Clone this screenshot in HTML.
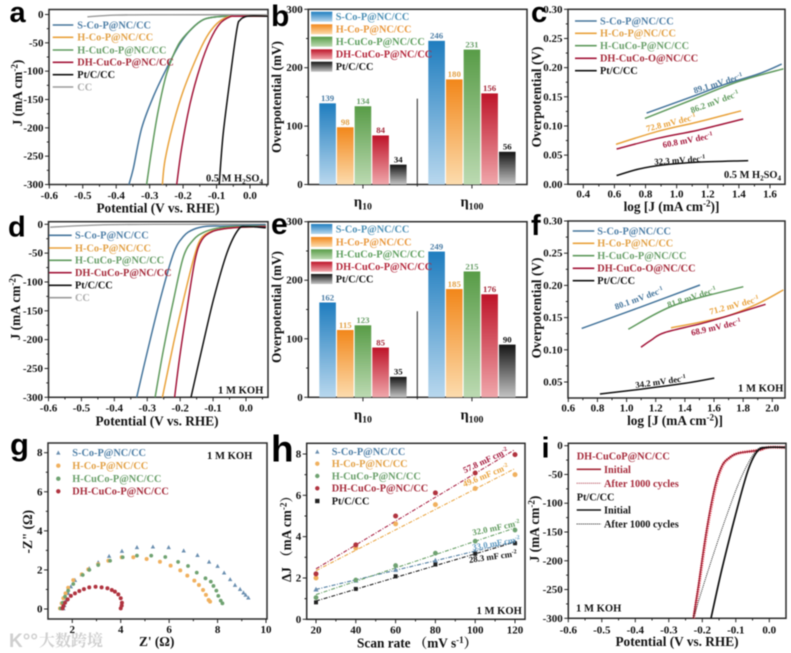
<!DOCTYPE html>
<html lang="en">
<head>
<meta charset="utf-8">
<title>Electrocatalyst performance panels</title>
<style>
html,body{margin:0;padding:0;background:#fff;width:791px;height:653px;overflow:hidden}
svg{display:block;filter:blur(0.5px)}
text{font-family:"Liberation Serif","Noto Serif CJK SC",serif;font-weight:bold}
.letter{font-family:"Liberation Sans",sans-serif;font-weight:bold}
</style>
</head>
<body>
<svg id="figure" xmlns="http://www.w3.org/2000/svg" width="791" height="653" viewBox="0 0 791 653">
<defs>
<linearGradient id="g0" x1="0" y1="0" x2="0" y2="1"><stop offset="0" stop-color="#1f7dbf"/><stop offset="1" stop-color="#b9d8ee"/></linearGradient>
<linearGradient id="g1" x1="0" y1="0" x2="0" y2="1"><stop offset="0" stop-color="#f2871a"/><stop offset="1" stop-color="#fcdcae"/></linearGradient>
<linearGradient id="g2" x1="0" y1="0" x2="0" y2="1"><stop offset="0" stop-color="#589c47"/><stop offset="1" stop-color="#bcdab2"/></linearGradient>
<linearGradient id="g3" x1="0" y1="0" x2="0" y2="1"><stop offset="0" stop-color="#be1429"/><stop offset="1" stop-color="#f0a7ab"/></linearGradient>
<linearGradient id="g4" x1="0" y1="0" x2="0" y2="1"><stop offset="0" stop-color="#141414"/><stop offset="1" stop-color="#c4c4c4"/></linearGradient>
</defs>
</svg>
<script>
// ---------- panel a data ----------
const aSPot=[-.362,-.349,-.324,-.289,-.249,-.209,-.174,-.139,-.099,-.05,.053];
const aSJ=[-300,-272,-201,-145,-95,-51,-25,-9,-4,-3,-3];
const aHCoPot=[-.262,-.254,-.229,-.199,-.159,-.129,-.099,-.07,-.04,.053];
const aHCoJ=[-300,-257,-192,-134,-75,-39,-16,-5,-3,-3];
const aHCuPot=[-.309,-.294,-.274,-.249,-.214,-.174,-.139,-.099,-.05,.053];
const aHCuJ=[-300,-239,-169,-104,-53,-25,-9,-4,-3,-3];
const aDHPot=[-.219,-.204,-.179,-.149,-.119,-.09,-.06,-.04,.053];
const aDHJ=[-300,-234,-157,-92,-45,-16,-4,-3,-3];
const aPtPot=[-.092,-.08,-.055,-.038,-.03,-.015,.01,.053];
const aPtJ=[-300,-210,-92,-22,-10,-4,-2.5,-3];
const aCCPot=[-.486,-.399,-.25,.053];
const aCCJ=[-4,-1,-.5,-.5];
// ---------- panel d data ----------
const dSPot=[-.332,-.301,-.261,-.22,-.19,-.16,-.119,-.058,.06];
const dSJ=[-300,-224,-131,-50,-21,-9,-3.5,-3,-1];
const dHCoPot=[-.254,-.22,-.19,-.16,-.139,-.109,-.069,-.018,.06];
const dHCoJ=[-300,-206,-131,-62,-27,-13,-8,-5,-4];
const dHCuPot=[-.276,-.251,-.22,-.19,-.16,-.129,-.089,-.038,.06];
const dHCuJ=[-300,-218,-131,-56,-27,-14,-7,-4,-3];
const dDHPot=[-.217,-.2,-.18,-.155,-.134,-.104,-.069,-.018,.06];
const dDHJ=[-300,-224,-149,-62,-27,-13,-8,-5,-4];
const dPtPot=[-.167,-.139,-.099,-.058,-.023,.002,.06];
const dPtJ=[-300,-229,-131,-50,-9,-4,-6];
const dCCPot=[-.595,-.443,-.25,.06];
const dCCJ=[-5,-1,0,0];
// ---------- panel i data ----------
const iDHPot=[-.227,-.212,-.187,-.162,-.142,-.122,-.093,-.033,-.003,.047];
const iDHJ=[-300,-245,-146,-71,-36,-22,-13,-8,-3,-3];
const iDHAfterPot=[-.226,-.211,-.186,-.161,-.141,-.121,-.092,-.033,-.003,.047];
const iDHAfterJ=[-300,-245,-146,-71,-36,-22,-13,-8,-3,-3];
const iPtPot=[-.174,-.142,-.102,-.063,-.033,-.003,.047];
const iPtJ=[-300,-216,-123,-42,-8,-3,-3];
const iPtAfterPot=[-.227,-.182,-.132,-.083,-.038,-.003,.047];
const iPtAfterJ=[-300,-216,-129,-54,-8,-3,-3];
// ---------- overpotential bars ----------
const barGroups=['η_{10}','η_{100}'];
const bEta10=[139,98,134,84,34];
const bEta100=[246,180,231,156,56];
const eEta10=[162,115,123,85,35];
const eEta100=[249,185,215,176,90];
// ---------- panel c data ----------
const cSLog=[.807,1.096,1.311,1.525,1.675];
const cSEta=[.122,.15,.1714,.189,.206];
const cHCuLog=[.796,1.096,1.396,1.686];
const cHCuEta=[.113,.1446,.176,.198];
const cHCoLog=[.61,.882,1.139,1.414];
const cHCoEta=[.0686,.091,.107,.126];
const cDHLog=[.614,.882,1.139,1.428];
const cDHEta=[.0606,.079,.093,.112];
const cPtLog=[.614,.754,.904,1.139,1.46];
const cPtEta=[.015,.026,.033,.038,.0406];
// ---------- panel f data ----------
const fSLog=[.692,1.103,1.504];
const fSEta=[.1333,.167,.2006];
const fHCuLog=[1.012,1.332,1.801];
const fHCuEta=[.132,.1696,.198];
const fHCoLog=[1.305,1.675,1.904,2.076];
const fHCoEta=[.134,.1514,.172,.193];
const fDHLog=[1.099,1.172,1.263,1.561,1.954];
const fDHEta=[.104,.1154,.1268,.1437,.1706];
const fPtLog=[.817,1.103,1.401,1.602];
const fPtEta=[.0314,.039,.048,.056];
// ---------- panel g data ----------
const gSRe=[1.63,1.67,1.74,1.83,1.94,2.11,2.39,2.7,3.07,3.52,4.05,4.67,5.33,5.98,6.6,7.17,7.65,8,8.27,8.52,8.72,8.93,9.07,9.16,9.27];
const gSIm=[.03,.2,.46,.81,1.15,1.48,1.77,2.08,2.39,2.71,2.97,3.16,3.19,3.16,2.99,2.76,2.42,2.2,1.86,1.52,1.23,1.02,.84,.72,.58];
const gHCoRe=[1.49,1.56,1.63,1.72,1.83,2.04,2.39,2.66,3.07,3.49,4.04,4.52,5.07,5.62,6.06,6.46,6.75,7.04,7.23,7.4,7.52,7.63,7.69];
const gHCoIm=[.03,.29,.55,.8,1.09,1.48,1.77,2.03,2.3,2.47,2.65,2.65,2.56,2.42,2.22,1.98,1.71,1.45,1.23,.97,.72,.46,.38];
const gHCuRe=[1.52,1.6,1.7,1.83,2.04,2.43,2.7,3.07,3.56,4.08,4.67,5.26,5.84,6.37,6.78,7.14,7.5,7.72,7.83,7.95,8.03,8.13,8.2];
const gHCuIm=[.03,.32,.63,.94,1.28,1.74,2,2.25,2.47,2.65,2.73,2.73,2.66,2.41,2.2,1.86,1.57,1.4,1.18,.94,.67,.43,.29];
const gDHRe=[4,4.04,4.05,4,3.9,3.76,3.63,3.45,3.21,2.96,2.7,2.48,2.29,2.11,1.94,1.81,1.7,1.63,1.6];
const gDHIm=[.03,.17,.32,.55,.75,.89,.97,1.06,1.11,1.14,1.11,1.02,.92,.8,.67,.49,.32,.15,.03];
// ---------- panel h data ----------
const hRates=[20,40,60,80,100,120];
const hS=[1.45,1.88,2.4,2.85,3.3,3.75];
const hHCo=[2,3.45,4.62,5.55,6.33,7];
const hHCu=[1.05,1.9,2.6,3.2,3.78,4.32];
const hDH=[2.2,3.6,5,6.12,7.08,7.97];
const hPt=[.82,1.47,2.08,2.65,3.17,3.68];
// ---------- tick labels ----------
const potTicks=['-0.6','-0.5','-0.4','-0.3','-0.2','-0.1','0.0'];
const jTicks=['0','-50','-100','-150','-200','-250','-300'];
const etaBarTicks=['0','100','200','300'];
const cXTicks=['0.4','0.6','0.8','1.0','1.2','1.4','1.6'];
const etaTicksC=['0.00','0.05','0.10','0.15','0.20','0.25','0.30'];
const fXTicks=['0.6','0.8','1.0','1.2','1.4','1.6','1.8','2.0'];
const etaTicksF=['0.05','0.10','0.15','0.20','0.25','0.30'];
const gXTicks=['2','4','6','8','10'];
const gYTicks=['0','2','4','6','8'];
const hXTicks=['20','40','60','80','100','120'];
const hYTicks=['0','2','4','6','8'];
// ---------- legends ----------
const namesP=['S-Co-P@NC/CC','H-Co-P@NC/CC','H-CuCo-P@NC/CC','DH-CuCo-P@NC/CC','Pt/C/CC','CC'];
const namesO=['S-Co-P@NC/CC','H-Co-P@NC/CC','H-CuCo-P@NC/CC','DH-CuCo-O@NC/CC','Pt/C/CC'];

const LINE=['#44749b','#e9a23b','#5f9a5d','#a3163a','#101010','#9a9a9a'];
const TXT=['#4d7ea6','#e2a044','#689e68','#a52a3a','#111','#ababab'];
const MARK=['#6b8fb0','#f0b05e','#6fa271','#b0333f','#222'];
const NS='http://www.w3.org/2000/svg';
const root=document.getElementById('figure');

function mk(parent,tag,name,attrs){
  const el=document.createElementNS(NS,tag);
  
  
  for(const k in attrs) el.setAttribute(k,attrs[k]);
  parent.appendChild(el);
  return el;
}
function txt(parent,name,s,x,y,o){
  o=o||{};
  const size=o.size||11;
  const attrs={x:x,y:y,'font-size':size,fill:o.fill||'#111','text-anchor':o.anchor||'start'};
  if(o.rot!==undefined) attrs.transform='rotate('+o.rot+' '+x+' '+y+')';
  if(o.cls) attrs['class']=o.cls;
  if(o.font) attrs['font-family']=o.font;
  const t=mk(parent,'text',name,attrs);
  const re=/(\^|_)\{(.*?)\}/g;
  let last=0,m,pend=0;
  const add=(str,dy,fs)=>{
    const sp=document.createElementNS(NS,'tspan');
    if(dy) sp.setAttribute('dy',dy);
    if(fs) sp.setAttribute('font-size',fs);
    sp.textContent=str;
    t.appendChild(sp);
  };
  while((m=re.exec(s))){
    if(m.index>last){add(s.slice(last,m.index),pend,null);pend=0;}
    const d=m[1]==='^'?-size*.35:size*.22;
    add(m[2],d+pend,size*.68);
    pend=-d;
    last=m.index+m[0].length;
  }
  if(last<s.length||pend) add(s.slice(last)||' ',pend,null);
  return t;
}
const scale=(d0,d1,p0,p1)=>v=>p0+(v-d0)*(p1-p0)/(d1-d0);

function frame(p){
  const g=mk(root,'g','panel-'+p.id,{});
  p.g=g;
  const [l,r,t,b]=p.box;
  mk(g,'rect','plot-frame-'+p.id,{x:l,y:t,width:r-l,height:b-t,fill:'none',stroke:'#2a2a2a','stroke-width':1.5});
  const ax=mk(g,'g','axes-'+p.id,{});
  const tick=(x1,y1,x2,y2,n)=>mk(ax,'line',n,{x1:x1,y1:y1,x2:x2,y2:y2,stroke:'#222','stroke-width':1});
  if(p.xTicks){
    const v=p.xTicks.map(Number);
    const step=v[1]-v[0];
    p.xTicks.forEach((lab,i)=>{
      const X=p.sx(v[i]);
      tick(X,b,X,b+4,'x-tick');
      txt(ax,'x-tick-label',lab,X,p.xLabY,{anchor:'middle'});
      for(let k=1;k<=p.xMinor;k++){
        const mv=v[i]+step*k/(p.xMinor+1);
        const mx=p.sx(mv);
        if(mx<r) tick(mx,b,mx,b+2.2,'x-minor-tick');
      }
    });
  }
  const yv=p.yTicks.map(Number);
  const ystep=yv[1]-yv[0];
  p.yTicks.forEach((lab,i)=>{
    const Y=p.sy(yv[i]);
    tick(l,Y,l-4,Y,'y-tick');
    txt(ax,'y-tick-label',lab,l-5.5,Y+3.5,{anchor:'end'});
    if(i<yv.length-1) for(let k=1;k<=p.yMinor;k++){
      const my=p.sy(yv[i]+ystep*k/(p.yMinor+1));
      tick(l,my,l-2.2,my,'y-minor-tick');
    }
  });
  if(p.xTitle) txt(ax,'x-axis-title',p.xTitle,p.xTitlePos[0],p.xTitlePos[1],{anchor:'middle',size:13.3});
  txt(ax,'y-axis-title',p.yTitle,p.yTitlePos[0],p.yTitlePos[1],{anchor:'middle',size:13.3,rot:-90});
  txt(g,'panel-letter-'+p.id,p.id,p.letter[0],p.letter[1],{cls:'letter',size:p.letter[2]||29,fill:'#000'});
  return g;
}
// smooth open path through the supplied data points
function curve(p,name,xs,ys,color,w,dash){
  const pts=xs.map((x,i)=>[p.sx(x),p.sy(ys[i])]);
  let d='M'+pts[0][0].toFixed(1)+' '+pts[0][1].toFixed(1);
  for(let i=0;i<pts.length-1;i++){
    const a=pts[Math.max(i-1,0)],b=pts[i],c=pts[i+1],e=pts[Math.min(i+2,pts.length-1)];
    const c1=[b[0]+(c[0]-a[0])/6,b[1]+(c[1]-a[1])/6],c2=[c[0]-(e[0]-b[0])/6,c[1]-(e[1]-b[1])/6];
    d+=' C'+c1[0].toFixed(1)+' '+c1[1].toFixed(1)+' '+c2[0].toFixed(1)+' '+c2[1].toFixed(1)+' '+c[0].toFixed(1)+' '+c[1].toFixed(1);
  }
  const at={d:d,fill:'none',stroke:color,'stroke-width':w||1.5,'stroke-linejoin':'round'};
  if(dash) at['stroke-dasharray']=dash;
  return mk(p.g,'path',name,at);
}
function lineLegend(p,x1,x2,tx,ys,names){
  names.forEach((n,i)=>{
    const e=mk(p.g,'g','legend-entry',{});
    mk(e,'line','legend-line',{x1:x1,y1:ys[i],x2:x2,y2:ys[i],stroke:LINE[i],'stroke-width':1.6});
    txt(e,'legend-label',n,tx,ys[i]+3.4,{size:10.3,fill:TXT[i]});
  });
}
function marker(parent,type,x,y,r,color,name){
  if(type==='tri') return mk(parent,'polygon',name,{points:(x-r)+','+(y+r*.85)+' '+(x+r)+','+(y+r*.85)+' '+x+','+(y-r),fill:color});
  if(type==='sq') return mk(parent,'rect',name,{x:x-r,y:y-r,width:2*r,height:2*r,fill:color});
  return mk(parent,'circle',name,{cx:x,cy:y,r:r,fill:color});
}
function markerLegend(p,mx,tx,ys,names,types){
  names.forEach((n,i)=>{
    const e=mk(p.g,'g','legend-entry',{});
    marker(e,types[i],mx,ys[i],2.2,MARK[i],'legend-marker');
    txt(e,'legend-label',n,tx,ys[i]+3.4,{size:10.3,fill:TXT[i]});
  });
}
function note(p,s,x,y,size){ txt(p.g,'electrolyte-label',s,x,y,{size:size||10.6,fill:'#111'}); }
function slope(p,s,x,y,rot,color){ txt(p.g,'slope-annotation',s,x,y,{size:8.8,fill:color,anchor:'middle',rot:rot}); }

// ---------- polarisation panels ----------
const pa={id:'a',box:[49,268,9.5,184.5],sx:scale(-.6,0,49.3,250),sy:scale(0,-300,14.5,184.5),xTicks:potTicks,xMinor:1,yTicks:jTicks,yMinor:1,xLabY:199,xTitle:'Potential (V vs. RHE)',xTitlePos:[158,212.5],yTitle:'J (mA cm^{-2})',yTitlePos:[22,93],letter:[9.5,22,29]};
frame(pa);
curve(pa,'curve-cc',aCCPot,aCCJ,LINE[5],1.4);
curve(pa,'curve-s-co-p',aSPot,aSJ,LINE[0]);
curve(pa,'curve-h-cuco-p',aHCuPot,aHCuJ,LINE[2]);
curve(pa,'curve-h-co-p',aHCoPot,aHCoJ,LINE[1]);
curve(pa,'curve-dh-cuco-p',aDHPot,aDHJ,LINE[3]);
curve(pa,'curve-pt-c',aPtPot,aPtJ,LINE[4]);
lineLegend(pa,52.7,73.3,77.3,[25,37.3,50,62.3,74.7,87],namesP);
note(pa,'0.5 M H_{2}SO_{4}',206,181.5,10.4);

const pd={id:'d',box:[48.5,268,221.7,397.3],sx:scale(-.6,0,48.5,246),sy:scale(0,-300,224.3,397.3),xTicks:potTicks,xMinor:1,yTicks:jTicks,yMinor:1,xLabY:411.5,xTitle:'Potential (V vs. RHE)',xTitlePos:[157,425.5],yTitle:'J (mA cm^{-2})',yTitlePos:[20,307],letter:[8,236.5,29]};
frame(pd);
curve(pd,'curve-cc',dCCPot,dCCJ,LINE[5],1.4);
curve(pd,'curve-s-co-p',dSPot,dSJ,LINE[0]);
curve(pd,'curve-h-cuco-p',dHCuPot,dHCuJ,LINE[2]);
curve(pd,'curve-h-co-p',dHCoPot,dHCoJ,LINE[1]);
curve(pd,'curve-dh-cuco-p',dDHPot,dDHJ,LINE[3]);
curve(pd,'curve-pt-c',dPtPot,dPtJ,LINE[4]);
lineLegend(pd,49,71.7,75,[235.3,248,260.3,272.7,285.3,297.7],namesP);
note(pd,'1 M KOH',218,393.5);

const pi_={id:'i',box:[568.3,786,443.3,618.3],sx:scale(-.6,0,568.3,769.3),sy:scale(0,-300,445.7,618.3),xTicks:potTicks,xMinor:1,yTicks:jTicks,yMinor:1,xLabY:633.5,xTitle:'Potential (V vs. RHE)',xTitlePos:[677,646],yTitle:'J (mA cm^{-2})',yTitlePos:[539,529],letter:[541.5,457.5,29]};
frame(pi_);
curve(pi_,'curve-dh-after-1000-cycles',iDHAfterPot,iDHAfterJ,'#e23a4a',3,'1.2 1');
curve(pi_,'curve-dh-initial',iDHPot,iDHJ,'#8e1428',1.1);
curve(pi_,'curve-pt-after-1000-cycles',iPtAfterPot,iPtAfterJ,'#222',1,'1 1');
curve(pi_,'curve-pt-initial',iPtPot,iPtJ,'#111',1.7);
const iLegendRows=[['DH-CuCoP@NC/CC',null,'#a52a3a',576.7,456],['Initial','s','#a52a3a',604,469.3],['After 1000 cycles','d','#a52a3a',604,483.3],['Pt/C/CC',null,'#111',576.7,496.7],['Initial','s','#111',604,510],['After 1000 cycles','d','#111',604,524]];
iLegendRows.forEach(r=>{
  const e=mk(pi_.g,'g','legend-entry',{});
  if(r[1]) {
    const at={x1:576.7,y1:r[4],x2:601,y2:r[4],stroke:r[2],'stroke-width':r[1]==='s'?1.6:1};
    if(r[1]==='d') at['stroke-dasharray']='1 1';
    mk(e,'line','legend-line',at);
  }
  txt(e,'legend-label',r[0],r[3],r[4]+3.6,{size:10.3,fill:r[2]});
});
note(pi_,'1 M KOH',576,611.7);

// ---------- bar panels ----------
function bars(p,groups){
  const starts=[p.box[0]+11,p.box[0]+120];
  groups.forEach((vals,g)=>{
    const gp=mk(p.g,'g','bar-group-'+(g===0?'eta10':'eta100'),{});
    vals.forEach((v,i)=>{
      const x=starts[g]+i*17.67;
      const y=p.sy(v);
      mk(gp,'rect','bar',{x:x,y:y,width:16.6,height:p.sy(0)-y,fill:'url(#g'+i+')'});
      txt(gp,'bar-value',String(v),x+8.3,y-2.2,{size:8.8,anchor:'middle',fill:TXT[i]});
    });
    const cx=starts[g]+4*17.67/2+8.3;
    mk(gp,'line','x-tick',{x1:cx,y1:p.box[3],x2:cx,y2:p.box[3]+4,stroke:'#222','stroke-width':1});
    txt(gp,'x-category-label',barGroups[g],cx,p.box[3]+22,{size:14.5,anchor:'middle'});
  });
  mk(p.g,'line','group-divider',{x1:p.box[0]+109,y1:p.sy(147),x2:p.box[0]+109,y2:p.box[3]+2,stroke:'#222','stroke-width':1});
}
function barLegend(p,ys){
  namesP.slice(0,5).forEach((n,i)=>{
    const e=mk(p.g,'g','legend-entry',{});
    mk(e,'rect','legend-swatch',{x:311,y:ys[i]-5,width:21.3,height:10,fill:'url(#g'+i+')'});
    txt(e,'legend-label',n,335.7,ys[i]+3.4,{size:10.3,fill:i===0?'#4b8fb5':i===1?'#e9973c':i===2?'#5f9f5f':i===3?'#b3263a':'#111'});
  });
}
const pb={id:'b',box:[308.3,527,9.3,184.5],sy:scale(0,300,184.5,9.3),yTicks:etaBarTicks,yMinor:1,yTitle:'Overpotential (mV)',yTitlePos:[281,97],letter:[271,26,30]};
frame(pb);bars(pb,[bEta10,bEta100]);barLegend(pb,[16.7,29.3,41.7,54.3,66.7]);
const pe={id:'e',box:[308.3,527,221.7,397.3],sy:scale(0,300,397.3,221.7),yTicks:etaBarTicks,yMinor:1,yTitle:'Overpotential (mV)',yTitlePos:[281,307],letter:[271,234,30]};
frame(pe);bars(pe,[eEta10,eEta100]);barLegend(pe,[229,242,254.3,266.7,279]);

// ---------- Tafel panels ----------
const pc={id:'c',box:[568,785,9.3,184.3],sx:scale(.4,1.6,583.3,770),sy:scale(0,.3,184.3,9.3),xTicks:cXTicks,xMinor:1,yTicks:etaTicksC,yMinor:1,xLabY:197.5,xTitle:'log [J (mA cm^{-2})]',xTitlePos:[671.5,211],yTitle:'Overpotential (V)',yTitlePos:[541,97],letter:[531,22,29]};
frame(pc);
curve(pc,'curve-s-co-p',cSLog,cSEta,LINE[0]);
curve(pc,'curve-h-cuco-p',cHCuLog,cHCuEta,LINE[2]);
curve(pc,'curve-h-co-p',cHCoLog,cHCoEta,LINE[1]);
curve(pc,'curve-dh-cuco-o',cDHLog,cDHEta,LINE[3]);
curve(pc,'curve-pt-c',cPtLog,cPtEta,LINE[4]);
lineLegend(pc,575,596.7,600,[21,33.3,45.7,58.3,70.7],namesO);
slope(pc,'89.1 mV dec^{-1}',719,86,-17,LINE[0]);
slope(pc,'86.2 mV dec^{-1}',715.7,104.5,-20,LINE[2]);
slope(pc,'72.8 mV dec^{-1}',671.7,125.5,-14,LINE[1]);
slope(pc,'60.8 mV dec^{-1}',688.3,143,-11,LINE[3]);
slope(pc,'32.3 mV dec^{-1}',680,163,-4,'#111');
note(pc,'0.5 M H_{2}SO_{4}',724,178,10.4);

const pf={id:'f',box:[568,785,221,398],sx:scale(.6,2,568.3,772.3),sy:scale(.05,.3,382,221),xTicks:fXTicks,xMinor:1,yTicks:etaTicksF,yMinor:1,xLabY:411.5,xTitle:'log [J (mA cm^{-2})]',xTitlePos:[675,425],yTitle:'Overpotential (V)',yTitlePos:[541,308],letter:[531,235,29]};
frame(pf);
curve(pf,'curve-s-co-p',fSLog,fSEta,LINE[0]);
curve(pf,'curve-h-cuco-p',fHCuLog,fHCuEta,LINE[2]);
curve(pf,'curve-h-co-p',fHCoLog,fHCoEta,LINE[1]);
curve(pf,'curve-dh-cuco-o',fDHLog,fDHEta,LINE[3]);
curve(pf,'curve-pt-c',fPtLog,fPtEta,LINE[4]);
lineLegend(pf,572.7,594.3,597.3,[231,243.3,255.7,268.3,280.7],namesO);
slope(pf,'80.1 mV dec^{-1}',640,301,-20,LINE[0]);
slope(pf,'81.8 mV dec^{-1}',692.7,300,-18,LINE[2]);
slope(pf,'71.2 mV dec^{-1}',735,308,-15,LINE[1]);
slope(pf,'68.9 mV dec^{-1}',716.7,330,-13,LINE[3]);
slope(pf,'34.2 mV dec^{-1}',661,384.5,-8,'#111');
note(pf,'1 M KOH',738,391.5);

// ---------- Nyquist panel ----------
const pg={id:'g',box:[48,267,443,619],sx:scale(2,10,72.3,266),sy:scale(0,8,609,452.7),xTicks:gXTicks,xMinor:1,yTicks:gYTicks,yMinor:1,xLabY:633,xTitle:"Z' (Ω)",xTitlePos:[156.7,646],yTitle:'-Z" (Ω)',yTitlePos:[32,531.7],letter:[10,455,31]};
frame(pg);
function scatter(p,name,xs,ys,type,r,color){
  const gp=mk(p.g,'g',name,{});
  xs.forEach((x,i)=>marker(gp,type,p.sx(x),p.sy(ys[i]),r,color,'data-point'));
}
scatter(pg,'series-s-co-p',gSRe,gSIm,'tri',2.2,MARK[0]);
scatter(pg,'series-h-co-p',gHCoRe,gHCoIm,'dia',2,MARK[1]);
scatter(pg,'series-h-cuco-p',gHCuRe,gHCuIm,'circ',1.9,MARK[2]);
scatter(pg,'series-dh-cuco-p',gDHRe,gDHIm,'circ',2,MARK[3]);
markerLegend(pg,58.3,72.3,[452.7,465.7,478.7,491.3],namesP.slice(0,4),['tri','dia','circ','circ']);
note(pg,'1 M KOH',207,459);

// ---------- Double-layer capacitance panel ----------
const ph={id:'h',box:[306.7,525,443.3,619.3],sx:scale(20,120,316,515),sy:scale(0,8,619.3,454),xTicks:hXTicks,xMinor:1,yTicks:hYTicks,yMinor:1,xLabY:633.5,xTitle:'Scan rate （mV s^{-1}）',xTitlePos:[417,647.5],yTitle:'ΔJ （mA cm^{-2}）',yTitlePos:[291,535.7],letter:[271,461.5,37]};
frame(ph);
function fitLine(p,name,xs,ys,color){
  const n=xs.length;
  const mx=xs.reduce((a,b)=>a+b)/n,my=ys.reduce((a,b)=>a+b)/n;
  let num=0,den=0;
  xs.forEach((x,i)=>{num+=(x-mx)*(ys[i]-my);den+=(x-mx)*(x-mx);});
  const k=num/den;
  const f=x=>my+k*(x-mx);
  mk(p.g,'line',name,{x1:p.sx(xs[0]),y1:p.sy(f(xs[0])),x2:p.sx(xs[n-1]),y2:p.sy(f(xs[n-1])),stroke:color,'stroke-width':1,'stroke-dasharray':'4 1.5 1 1.5'});
}
fitLine(ph,'fit-line-s-co-p',hRates,hS,LINE[0]);
fitLine(ph,'fit-line-h-co-p',hRates,hHCo,LINE[1]);
fitLine(ph,'fit-line-h-cuco-p',hRates,hHCu,LINE[2]);
fitLine(ph,'fit-line-dh-cuco-p',hRates,hDH,LINE[3]);
fitLine(ph,'fit-line-pt-c',hRates,hPt,LINE[4]);
scatter(ph,'series-s-co-p',hRates,hS,'tri',2.6,MARK[0]);
scatter(ph,'series-h-co-p',hRates,hHCo,'dia',2.5,MARK[1]);
scatter(ph,'series-h-cuco-p',hRates,hHCu,'circ',2.4,MARK[2]);
scatter(ph,'series-dh-cuco-p',hRates,hDH,'circ',2.5,MARK[3]);
scatter(ph,'series-pt-c',hRates,hPt,'sq',2,MARK[4]);
markerLegend(ph,317.3,331.7,[451.7,463.7,476,488.3,501],namesP.slice(0,5),['tri','dia','circ','circ','sq']);
slope(ph,'57.8 mF cm^{-2}',486.7,463,-25,'#a3163a');
slope(ph,'49.6 mF cm^{-2}',486.7,478,-22,LINE[1]);
slope(ph,'32.0 mF cm^{-2}',496.7,530.5,-12,LINE[2]);
slope(ph,'33.0 mF cm^{-2}',496.7,546,-10,'#5f9ac2');
slope(ph,'28.3 mF cm^{-2}',493.3,559.5,-8,'#111');
note(ph,'1 M KOH',476.5,614);

// ---------- watermark ----------
const wm=mk(root,'g','watermark',{});
txt(wm,'watermark-logo','K°°',9,647,{cls:'letter',size:19,fill:'#cfcfcf'});
txt(wm,'watermark-text','大数跨境',39,646,{size:16,fill:'#cfcfcf',font:'"Noto Sans CJK SC",sans-serif'});
</script>
</body>
</html>
